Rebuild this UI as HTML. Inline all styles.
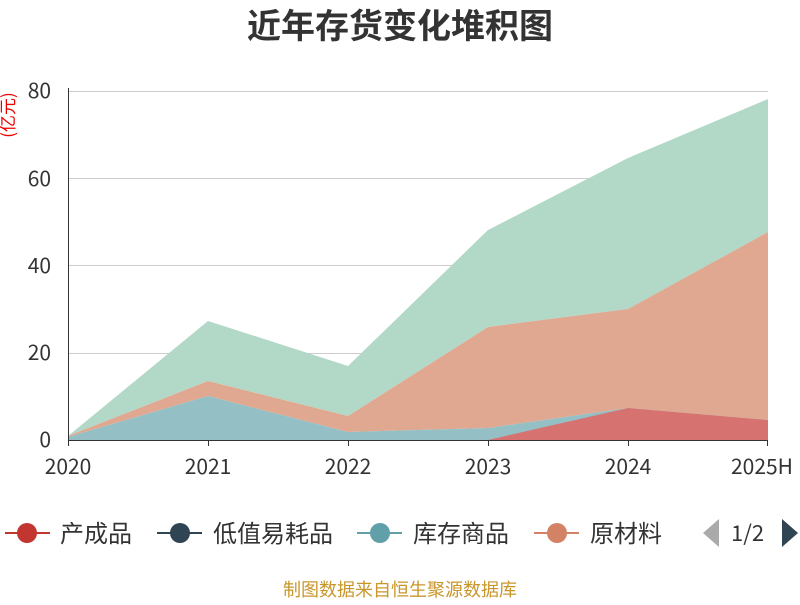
<!DOCTYPE html>
<html><head><meta charset="utf-8"><style>
body{margin:0;background:#fff;width:800px;height:600px;overflow:hidden;font-family:"Noto Sans CJK SC",sans-serif;}
</style></head><body>
<svg width="800" height="600" xmlns="http://www.w3.org/2000/svg" font-family="Noto Sans CJK SC, sans-serif">
<text x="400" y="38" text-anchor="middle" font-size="34" font-weight="bold" fill="#333">近年存货变化堆积图</text>
<text transform="translate(14,115) rotate(-90)" text-anchor="middle" font-size="17" fill="#e00">(亿元)</text>
<g stroke="#ccc" stroke-width="1">
<line x1="68" y1="91.5" x2="768" y2="91.5"/>
<line x1="68" y1="178.5" x2="768" y2="178.5"/>
<line x1="68" y1="265.5" x2="768" y2="265.5"/>
<line x1="68" y1="353.5" x2="768" y2="353.5"/>
</g>
<g font-size="21" fill="#333" text-anchor="end">
<text x="51" y="98">80</text><text x="51" y="186">60</text><text x="51" y="273">40</text><text x="51" y="360">20</text><text x="51" y="447">0</text>
</g>
<polygon fill="#b2d8c7" points="68,436 208,321 348,366 488,230 628,158 768,99 768,232 628,309 488,327 348,416 208,381 68,436"/>
<polygon fill="#e0a890" points="68,436 208,381 348,416 488,327 628,309 768,232 768,420 628,408 488,428 348,432 208,396 68,437"/>
<polygon fill="#94bfc5" points="68,437 208,396 348,432 488,428 628,408 768,420 768,440 68,440"/>
<polygon fill="#d67270" points="488,440 628,408 768,420 768,440"/>
<line x1="68" y1="440.5" x2="768" y2="440.5" stroke="#333" stroke-width="1"/>
<line x1="68.5" y1="88" x2="68.5" y2="441" stroke="#333"/>
<g stroke="#333"><line x1="208.5" y1="440" x2="208.5" y2="446"/><line x1="348.5" y1="440" x2="348.5" y2="446"/><line x1="488.5" y1="440" x2="488.5" y2="446"/><line x1="628.5" y1="440" x2="628.5" y2="446"/><line x1="767.5" y1="440" x2="767.5" y2="446"/><line x1="68.5" y1="440" x2="68.5" y2="446"/></g>
<g font-size="21" fill="#333" text-anchor="middle">
<text x="68" y="474">2020</text><text x="208" y="474">2021</text><text x="348" y="474">2022</text><text x="488" y="474">2023</text><text x="628" y="474">2024</text><text x="762" y="474">2025H</text>
</g>
<g font-size="24" fill="#333">
<line x1="5" y1="533" x2="50" y2="533" stroke="#c23531" stroke-width="2"/><circle cx="27" cy="533" r="10" fill="#c23531"/>
<text x="60" y="542">产成品</text>
<line x1="157" y1="533" x2="202" y2="533" stroke="#2f4554" stroke-width="2"/><circle cx="180" cy="533" r="10" fill="#2f4554"/>
<text x="213" y="542">低值易耗品</text>
<line x1="357" y1="533" x2="402" y2="533" stroke="#61a0a8" stroke-width="2"/><circle cx="380" cy="533" r="10" fill="#61a0a8"/>
<text x="413" y="542">库存商品</text>
<line x1="534" y1="533" x2="579" y2="533" stroke="#d48265" stroke-width="2"/><circle cx="557" cy="533" r="10" fill="#d48265"/>
<text x="590" y="542">原材料</text>
<polygon points="719,519 719,547 703,533" fill="#aaa"/>
<text x="731" y="541" font-size="22">1/2</text>
<polygon points="782,519 782,547 798,533" fill="#2f4554"/>
</g>
<text x="400" y="596" text-anchor="middle" font-size="18" fill="#c8962a">制图数据来自恒生聚源数据库</text>
</svg>
</body></html>
